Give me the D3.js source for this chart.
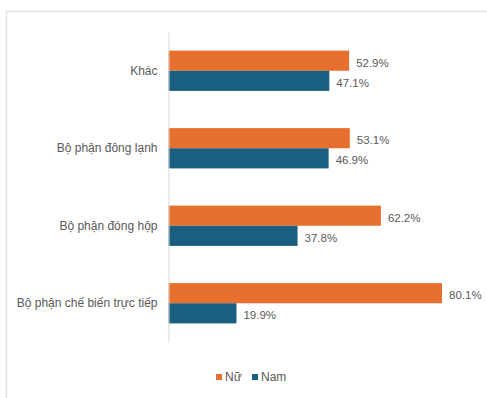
<!DOCTYPE html>
<html>
<head>
<meta charset="utf-8">
<script src="https://cdn.jsdelivr.net/npm/d3@7"></script>
<style>
body { margin: 0; background: #fff; }
svg { display: block; font-family: "Liberation Sans", Arial, sans-serif; }
</style>
</head>
<body>
<div id="container"></div>
<script>
const categories = ["Khác", "Bộ phận đông lạnh", "Bộ phận đóng hộp", "Bộ phận chế biến trực tiếp"];
const seriesNames = ["Nữ", "Nam"];
const nu = [52.9, 53.1, 62.2, 80.1];
const nam = [47.1, 46.9, 37.8, 19.9];
const colors = ["#E8702F", "#1A5F80"];

const w = 487; // canvas width
const h = 398; // canvas height

const svg = d3.select("#container").append("svg").attr("width", w).attr("height", h);

// chart frame
svg.append("path").attr("d", `M6.5,${h} V11.5 H${w}`).attr("fill", "none").attr("stroke", "#e2e2e2").attr("stroke-width", 1.5);

const x0 = 168.5;
const xScale = d3.scaleLinear().domain([0, 80.1]).range([x0, 442]);
const yScale = d3.scaleBand().domain(categories).range([32, 342]).paddingInner(0.48).paddingOuter(0.24);
const sub = d3.scaleBand().domain(seriesNames).range([0, yScale.bandwidth()]);

const rows = categories.map((c, i) => ({ cat: c, vals: [nu[i], nam[i]] }));

const g = svg.selectAll(".grp").data(rows).enter().append("g").attr("class", "grp")
	.attr("transform", (d) => `translate(0, ${yScale(d.cat)})`);

g.selectAll("rect").data((d) => d.vals.map((v, j) => ({ v: v, s: seriesNames[j], j: j }))).enter().append("rect")
	.attr("x", x0).attr("y", (d) => sub(d.s)).attr("width", (d) => xScale(d.v) - x0).attr("height", sub.bandwidth())
	.attr("fill", (d) => colors[d.j]);

g.selectAll("text.val").data((d) => d.vals.map((v, j) => ({ v: v, s: seriesNames[j] }))).enter().append("text")
	.attr("class", "val").attr("x", (d) => xScale(d.v) + 7).attr("y", (d) => sub(d.s) + sub.bandwidth() / 2 + 2)
	.attr("dy", "0.35em").attr("font-size", 11.5).attr("fill", "#595959").text((d) => d.v.toFixed(1) + "%");

// category axis
const yAxis = d3.axisLeft(yScale).tickSize(0).tickPadding(11);
const ax = svg.append("g").attr("transform", `translate(${x0}, 0)`).call(yAxis);
ax.select(".domain").attr("stroke", "#d9d9d9");
ax.selectAll("text").attr("font-size", 12).attr("fill", "#595959").attr("font-family", "Liberation Sans, Arial, sans-serif");

// legend
const leg = svg.append("g").attr("transform", "translate(0, 377)");
const legX = [216, 252];
seriesNames.forEach((s, i) => {
	leg.append("rect").attr("x", legX[i]).attr("y", -3).attr("width", 6).attr("height", 6).attr("fill", colors[i]);
	leg.append("text").attr("x", legX[i] + 9).attr("y", 0).attr("dy", "0.35em").attr("font-size", 12).attr("fill", "#595959").text(s);
});
</script>
</body>
</html>
